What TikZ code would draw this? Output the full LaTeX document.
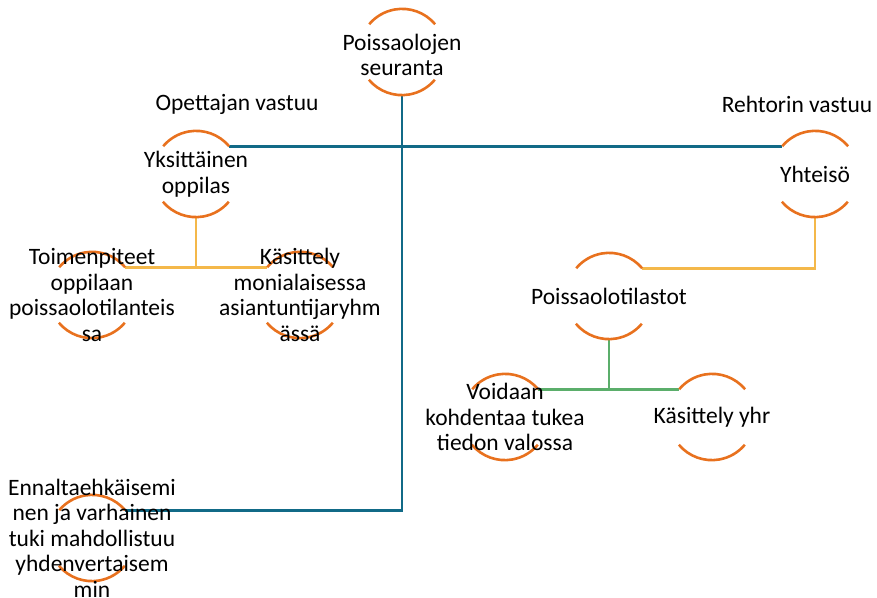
\documentclass[tikz,border=0pt]{standalone}
\usepackage{fontspec}
\setmainfont{Carlito}
\definecolor{ringorange}{HTML}{E8711E}
\definecolor{lineteal}{HTML}{116A87}
\definecolor{lineyellow}{HTML}{F4B84A}
\definecolor{linegreen}{HTML}{5BAE6B}
\tikzset{
   ring/.style={circle,minimum size=86pt,inner sep=0pt},
   ringarc/.style={ringorange,line width=2.6pt},
   txt/.style={align=center,font=\fontsize{23.5}{25.5}\selectfont,inner sep=0pt},
   conn/.style={line width=2.6pt}
}
\begin{document}
  \begin{tikzpicture}[x=1pt,y=1pt]
   \useasboundingbox (0,0) rectangle (877,597);
   \node [ring] (seur) at (402,545) {};
   \node [ring] (yks) at (196,423) {};
   \node [ring] (yht) at (815,423) {};
   \node [ring] (toim) at (92,302) {};
   \node [ring] (kas) at (300,302) {};
   \node [ring] (til) at (609,301) {};
   \node [ring] (voi) at (505,180) {};
   \node [ring] (kay) at (712,180) {};
   \node [ring] (enn) at (92,59) {};
   \draw [conn,lineteal] (seur.south) -- (seur.south |- enn.40) -- (enn.40);
   \draw [conn,lineteal] (yks.40) -- (yht.140);
   \draw [conn,lineyellow] (yks.south) -- (yks.south |- toim.40);
   \draw [conn,lineyellow] (toim.40) -- (kas.140);
   \draw [conn,lineyellow] (yht.south) |- (til.40);
   \draw [conn,linegreen] (til.south) -- (til.south |- voi.40);
   \draw [conn,linegreen] (voi.40) -- (kay.140);
   \foreach \c in {seur,yks,yht,toim,kas,til,voi,kay,enn} {
      \draw [ringarc] (\c.40) arc [start angle=40,end angle=140,radius=43pt];
      \draw [ringarc] (\c.220) arc [start angle=220,end angle=320,radius=43pt];
   }
   \node [txt] (seurT) at (402,542) {Poissaolojen\\seuranta};
   \node [txt] (yksT) at (yks) {Yksittäinen\\oppilas};
   \node [txt] (yhtT) at (yht) {Yhteisö};
   \node [txt] (toimT) at (toim) {Toimenpiteet\\oppilaan\\poissaolotilanteis\\sa};
   \node [txt] (kasT) at (kas) {Käsittely\\monialaisessa\\asiantuntijaryhm\\ässä};
   \node [txt] (tilT) at (til) {Poissaolotilastot};
   \node [txt] (voiT) at (voi) {Voidaan\\kohdentaa tukea\\tiedon valossa};
   \node [txt] (kayT) at (kay) {Käsittely yhr};
   \node [txt] (ennT) at (enn) {Ennaltaehkäisemi\\nen ja varhainen\\tuki mahdollistuu\\yhdenvertaisem\\min};
   \node [txt] (opet) at (237,493) {Opettajan vastuu};
   \node [txt] (reht) at (797,493) {Rehtorin vastuu};
  \end{tikzpicture}
\end{document}
